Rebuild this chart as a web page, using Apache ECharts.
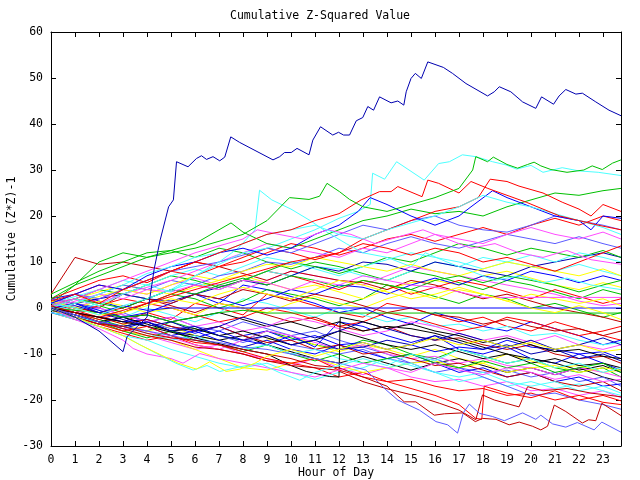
<!DOCTYPE html>
<html>
<head>
<meta charset="utf-8">
<script src="https://cdn.jsdelivr.net/npm/echarts@6/dist/echarts.min.js"></script>
<style>
  html, body { margin: 0; padding: 0; background: #fff; }
  #main { width: 640px; height: 480px; }
</style>
</head>
<body>
<div id="main"></div>
<script>
// hourly sample points (last sample is 23:45)
var hours = [0,1,2,3,4,5,6,7,8,9,10,11,12,13,14,15,16,17,18,19,20,21,22,23,23.75];
var xTicks = [0,1,2,3,4,5,6,7,8,9,10,11,12,13,14,15,16,17,18,19,20,21,22,23];
var yTicks = [-30,-20,-10,0,10,20,30,40,50,60];

var m1  = [1,-0.5,-2,-3,-1,-2.5,1,0,-1.5,3,2,0.5,-1,-2,1,0,-1.5,-3,-2,-4,-5,-3,-4.5,-6,-7];
var m2  = [0,-1,-2.5,-4,-5,-3,-4.5,-6,-7,-5,-6.5,-8,-9,-7,-8,-10,-11,-9,-10.5,-12,-11,-13,-14,-13,-15];
var m3  = [2,3,1.5,0,2,4,3,1,5,4,2.5,1,-1,0,-2,-3.5,-1,-2.5,-4,-5,-3,-4.5,-6,-8,-7];
var m4  = [-1,-2,-3.5,-5,-6,-7.5,-9,-8,-10,-11,-12.5,-11,-13,-14.5,-13,-15,-16,-15.5,-17,-16,-18,-17.5,-19,-18,-19.5];
var m5  = [0.5,1,-0.5,-2,0,-1.5,-3,-1,2,1,-0.5,-2,0,-1.5,-3,-2,-4,-3.5,-5,-4,-6,-5.5,-7,-8,-7.5];
var m6  = [0,-1,-2,-3.5,-5,-4,-6,-7,-8.5,-7,-6,-8,-9.5,-8,-9,-10.5,-9,-11,-12,-10,-11.5,-13,-12.5,-14,-13.5];
var m7  = [0,-1.5,-3,-4,-3,-5,-6,-7,-6,-8,-9.5,-11,-12,-10.5,-12,-13.5,-12,-11,-12.5,-14,-13,-14.5,-13,-15,-16];
var m8  = [2,1,0,3,2,0.5,-1,1,0,-1.5,-3,-2,-4,-5,-4,-6,-7,-6.5,-8,-9,-8,-10,-11,-10.5,-12];
var m9  = [0,-1,-2,-1,-3,-4.5,-4,-6,-7.5,-6,-8,-9,-10,-9,-11,-12,-11,-13,-14,-13.5,-15,-14,-16,-15,-17];
var m10 = [-1,-2.5,-4,-5.5,-7,-6,-8,-9,-10,-11.5,-12,-13,-15,-14,-16,-15.5,-17,-18,-17.5,-19,-18.5,-20,-19,-20.5,-21];
var m11 = [1,2,0.5,-1,1,3,2,0,1.5,4,3,2,0.5,2,5,4,2.5,1,3,2,0,1,-0.5,-2,-1];
var m12 = [-0.5,-2,-3,-4.5,-3,-5,-6.5,-5,-7,-8,-6,-8.5,-3,-4,-6,-7.5,-6,-9,-10,-8.5,-11,-12,-10,-12,-13.5];
var m13 = [1,0,2,4,3,5,6.5,5,4,6,8,7,6,5,7,9,8,7,6,5,4,3,1.5,0.5,1];
var m14 = [-1,-2.5,-4,-6,-7,-9,-10.5,-12,-13,-12,-14,-15.5,-14,-13,-11,-12.5,-14,-16,-15,-17,-16,-17.5,-16.5,-18,-19];
var m15 = [0.5,2,3.5,5,4,3,4.5,6,7,5.5,4,5,3.5,2,4,5.5,6,5,7,8,6.5,5,4,5.5,4.5];
var m16 = [1,0,-1,-2,-1.5,-3,-2,-1,-2.5,-4,-3,-4.5,-3,-5,-4,-4.5,-5.5,-7,-8.5,-10,-11,-12,-13.5,-12.5,-14];
var m17 = [3,11,9.5,10,9,8,10,9,7.5,6,8,7,6,5.5,4,6,5,3.5,2,3,1.5,0,-1,-2,-3];
var m18 = [1,5,10,12,11,12.5,11,13,12,10,8.5,10,9,7.5,6,8,7,5.5,4,6,5,3.5,2,4,3];
var m19 = [0,1,0,-1.5,-3,-2,-4,-5,-3,-4.5,-6,-5,-7,-8.5,-10,-12,-14,-13,-15,-17,-19,-18.5,-20,-21,-22];
var m20 = [0,-1,0.5,2,1,3,5,4,6,8,7,5.5,4,6,5,3,4.5,6,5,3.5,2,4,2.5,1,2];
var m21 = [0,-1,-2,-3,-2.5,-4,-5.5,-4,-6,-5,-7,-6,-8,-7.5,-9,-8,-9.5,-8.5,-9,-7,-8.5,-9,-10,-9.5,-11];
var m22 = [0,-1.5,-3,-4.5,-5,-6.5,-8,-9,-7,-5,-6,-7.5,-9,-8,-10,-11,-10.5,-12,-11,-12.5,-13,-14.5,-13,-14,-15];
var m23 = [0.5,-0.5,1,3,2,4,5.5,4,6,8,7,9,8.5,7,6,8,10,9,11,10,9,8,9.5,8,7];
var m24 = [-0.5,-2,-3.5,-5,-6,-7,-9,-11,-13,-13.5,-12,-11,-12.5,-14,-13,-12,-11.5,-13,-12,-14,-13,-12.5,-14,-13,-13.5];
var m25 = [0,1,2,3,2,1.5,3,4.5,6,5,7,9,8,10,9.5,8,10,9,8,7,9,10,11,12,11];
var m26 = [0,-0.5,-1,-2,-1.5,-3,-2,-1,-0.5,-1.1,-1.1,-1.1,-1.1,-1.1,-1.1,-1.1,-1.1,-1.1,-1.1,-1.1,-1.1,-1.1,-1.1,-1.1,-1.1];
var m27 = [0,1,-1,0.5,-0.5,0,0,0,0,0,0,0,0,0,0,0,0,0,0,0,0,0,0,0,0];
var m28 = [0,1.5,3,2,4,3.5,5,4,6,5.5,4,6,5,7,6,5,4.5,3.5,2.3,2.3,2.3,2.3,2.3,2.3,2.3];
var m29 = [2,4,6,7,5.5,8,10,9,11,13,12,10.5,12,14,13,11.5,13,12,10,11,9.5,8,10,12,13.5];
var m30 = [1,3,2,4,6,8,9,10,11.5,13,12,14,16,18,17,19,20,18,17,16.5,18,20,19,18,17];
var m31 = [0,0.5,-1,-2.5,-4,-3,-5,-4,-2,-3.5,-5,-6.5,-5,-3,-4.5,-6,-7,-5.5,-7,-8.5,-7,-9,-8,-6.5,-8];
var m32 = [1.5,0,-1.5,-1,0.5,2,1,3,4.5,3,2,4,6,5,3.5,2,3,4.5,3,1.5,0,-1,0.5,-1,-2.5];
var m33 = [0,2,4,3,5,7,6,4.5,6,8,10,9,7.5,9,11,10,12,14,13,11.5,13,12,11,12.5,11];
var m34 = [0.5,-1,-2.5,-1,1,0,-1.5,-3,-2,0,-1,-2.5,-4,-3,-1,-2,-3.5,-5,-4,-2,-3,-4.5,-6,-5,-4];
var m35 = [-1,-2,-3.5,-2,-4,-6,-5,-7,-8.5,-7,-9,-10,-8,-9.5,-11,-10,-12,-14,-13,-15,-14,-16,-15,-17,-16.5];
var m36 = [1,2.5,4,6,5,7,8.5,7,9,11,10,8.5,7,9,10.5,12,11,10,8.5,10,11.5,10,12,11,10];
var m37 = [0,-1,0,-1.5,-3,-2,-4,-3,-5,-4,-2,-3,-4.5,-6,-5,-3,-4,-5.5,-7,-6,-7.5,-6,-8,-9,-8];
var m38 = [1,0,1.5,0.5,-1,0,-1.5,1,0,-1,1,2.5,1,0,2,3.5,2,4,3,1.5,3,2,1,2,0.5];
var m39 = [0,-1,-2,-3.5,-2.5,-4,-5,-4,-6,-7.5,-7,-9,-8,-10,-9.5,-11,-12.5,-12,-13.5,-15,-14,-16,-17,-16,-18];
var m40 = [2,1,3,5,4,6,5,7,8,10,9.5,11,13,12,14,15.5,14,13,14.5,16,15,14,15.5,14,13];
var m41 = [-0.5,-1.5,-3,-2,-3.5,-5,-4.5,-6,-5,-6.5,-8,-7,-5,-6.5,-8,-9,-8,-9.5,-11,-10,-12,-11,-12.5,-12,-13];
var m42 = [0,-2,-3,-5,-6.5,-5,-7,-8,-9.5,-8,-10,-11.5,-10,-12,-11,-10,-12,-13,-11.5,-13,-12,-14,-13,-12,-14];
var m43 = [1,3,5,4,6,8,7,9,10,12,14,13,11.5,13,15,16,14.5,16,17.5,16,18,19.5,18,20,19];
var m44 = [0,1,-0.5,-2,-1,1,3,2,0.5,2,4,3,5,4.5,3,5,6.5,5,7,6,8,7,5.5,7,6];
var m45 = [-1,-2,-3,-4,-5.5,-7,-6,-8,-9,-8,-10,-9,-11,-12,-13,-12,-14,-15,-14,-16,-17,-16,-18,-17,-18.5];
var m46 = [1,2,1,3,4.5,6,8,10,12,14,13,12,11,13,12,14,16,15,14,16,17.5,16,15,16.5,15];
var m47 = [1,0,-1,0,2,1,3,2,4,3,1.5,3,2,0.5,-1,0,-1.5,-2,-3.5,-2.5,-4,-5,-4.5,-6,-5];
var m48 = [0,1,2.5,4,3,5,7,6,8,9.5,9,11,10,9,8,9.5,8,7,8.5,10,9,8,7,8.5,7];
var m49 = [0,-1.5,-3,-4,-3,-5,-4,-6,-7,-6,-8,-7,-9,-8.5,-7,-8,-6,-7.5,-9,-8,-10,-9,-11,-10,-11.5];
var m50 = [0.5,2,1,0,2,4,3,5,6.5,5,7,6,4.5,6,5,4,6,7,5.5,7,6,5,3.5,5,6];

// lines read with their jump points [hour, value]
var navyTop = [[0,0],[1,-2],[2,-5],[3,-9.5],[3.17,-6.2],[3.6,-4],[4,-2],[4.3,8.5],[4.55,14.8],[4.9,22],[5.1,23.5],[5.23,31.8],[5.71,30.7],[6.06,32.5],[6.27,33.1],[6.48,32.3],[6.75,32.9],[7.03,32],[7.24,32.8],[7.49,37.2],[7.86,36],[9.25,32.2],[9.53,32.9],[9.73,33.8],[10.01,33.8],[10.25,34.7],[10.75,33.3],[10.91,36.5],[11.23,39.4],[11.74,37.6],[11.98,38.2],[12.19,37.6],[12.44,37.6],[12.72,40.7],[12.99,41.4],[13.2,43.8],[13.44,43],[13.69,45.9],[14.17,44.6],[14.45,45],[14.7,44.1],[14.8,47],[15,49.9],[15.18,51],[15.43,49.9],[15.7,53.5],[16.35,52.3],[16.73,51],[17.29,48.8],[18.19,46.1],[18.47,47],[18.68,48.1],[19.16,47],[19.65,44.8],[20.2,43.4],[20.44,45.9],[20.94,44.3],[21.17,46.1],[21.45,47.5],[21.87,46.5],[22.14,46.7],[22.7,44.8],[23.25,43],[23.75,41.8]];
var cyanA = [[0,1],[1,0],[2,-1.5],[3,0.5],[4,2],[5,4],[6,7],[7,10],[7.8,13],[8.5,17],[8.69,25.6],[9.2,23.5],[10,21.5],[10.8,19],[11.5,16.5],[12.3,14],[13,12],[14,11],[15,9],[15.6,12],[16.5,10],[17.5,8],[18.5,6],[19.5,7],[20.5,5.5],[21.5,6.5],[22.5,5],[23.75,4]];
var cyanB = [[0,0],[1,2],[2,0.5],[3,3],[4,5],[5,3.5],[6,7],[7,9.5],[8,12],[9,13],[10,15],[11,17],[12,19.5],[12.8,21],[13.3,22.5],[13.4,29.3],[13.9,28],[14.4,31.8],[15.55,27.8],[16.15,31.4],[16.6,31.8],[17.14,33.3],[17.7,32.9],[18.4,31.8],[18.96,31.1],[19.4,30.2],[20,31],[20.5,29.5],[21.3,30.5],[22,29.8],[22.8,29.5],[23.75,28.8]];
var greenTop = [[0,2],[1,5],[2,7],[3,9],[4,11],[5,12],[6,13],[7,14.5],[8,16],[9,19],[9.94,24],[10.75,23.6],[11.19,24.3],[11.5,27.1],[12.02,25.3],[12.44,23.6],[13,22],[14,21],[15,22.5],[16,24],[17,26],[17.57,30],[17.7,32.9],[18.19,31.8],[18.43,32.8],[19,31.2],[19.44,30.4],[19.86,31.2],[20.13,31.7],[20.41,30.9],[20.83,30.1],[21.5,29.5],[22.2,30],[22.55,30.9],[22.97,30.1],[23.4,31.5],[23.75,32.2]];
var greenB = [[0,3],[1,5.5],[2,8],[3,10],[4,12],[5,12.5],[6,14],[7,17],[7.5,18.5],[8,16.5],[9,14],[10,13],[11,15],[12,17],[13,19],[14,20],[15,21.5],[16,20.5],[17,21],[18,20],[19,22],[20,23.5],[21,25],[22,24.5],[23,25.5],[23.75,26]];
var redTop = [[0,1.5],[1,3],[2,1],[3,4],[4,6],[5,8],[6,10],[7,12],[8,14],[9,16],[10,17],[11,19],[12,20.5],[12.92,23.5],[13.69,25.3],[14.17,25.3],[14.45,26.4],[15.46,24.2],[15.7,27.8],[16.15,27.1],[17,25],[17.5,27.5],[18.2,26],[19,24.5],[19.8,23],[20.5,21.5],[21.2,20],[22,19],[22.8,18],[23.75,17]];
var redB = [[0,0],[2,-2],[4,1],[6,4],[8,7],[10,10],[12,12],[13,15],[14,17],[15,19],[16,21],[17,22],[17.8,24],[18.3,28],[19,27.5],[19.5,26.5],[20.5,25],[21.3,23],[22,21.5],[22.5,20],[23,22.5],[23.75,21]];
var blueB = [[0,1],[1,3],[2,5],[3,4],[4,7],[5,9],[6,10],[7,12],[8,13],[9,11.5],[10,13],[11,16],[12,18],[12.8,21],[13.3,24],[14,22.5],[15,20],[16,18],[17,20],[17.5,22],[18.4,25.5],[19,24],[20,22],[21,20],[22,19],[22.5,17],[23,20],[23.75,19.5]];
var magB = [[0,0.5],[1,2],[2,4],[3,6],[4,8],[5,10],[6,12],[7,13.5],[8,15],[8.6,17],[9.5,16],[10.5,15],[11.5,17],[12.5,16],[13.5,14],[14.5,15.5],[15.5,17],[16.5,15],[17.5,13],[18.5,14],[19.5,12],[20.5,11],[21.5,12.5],[22.5,10.5],[23.75,9.5]];
var cyanC = [[0,-0.5],[1,1],[2,3],[3,5],[4,7.5],[5,9],[6,11],[7,12],[8,14],[9,16],[10,17],[11,18],[12,16],[13,15],[14,17],[15,18.5],[16,20],[17,22],[18,24.5],[19,23],[20,22],[21,20.5],[22,19],[23,17.5],[23.75,16]];
var blackJump = [[0,0],[2,-2],[4,-4],[6,-6.5],[8,-9],[9,-10],[10,-12.5],[10.64,-13.8],[11.6,-14.9],[12,-15],[12.05,-2],[13,-3],[14,-4.5],[15,-3.5],[16,-5],[17,-6],[18,-7.5],[19,-6.5],[20,-8],[21,-9.5],[22,-9],[23,-10.5],[23.75,-11]];
var redLow = [[0,0],[1,-2],[2,-3.5],[3,-5],[4,-4],[5,-6],[6,-7.5],[7,-8],[8,-9.5],[9,-11],[10,-12],[11,-11],[12,-13.5],[13,-15],[14,-16],[15,-17.5],[16,-19],[17,-21],[17.7,-24],[17.95,-24.2],[18.05,-17],[19,-18.5],[20,-19.5],[21,-18],[22,-20],[23,-19],[23.75,-20.2]];
var darkRedB = [[0,0.5],[1,-1],[2,-3],[3,-4.5],[4,-6],[5,-7],[6,-8.5],[7,-9],[8,-10],[9,-11.5],[10,-12.5],[11,-13],[11.9,-13.5],[13,-16],[13.96,-17.5],[15.35,-19.3],[16.18,-20.7],[17,-22.2],[17.7,-24.3],[17.98,-18.9],[18.47,-20],[19.5,-21.5],[19.86,-17.1],[20.5,-18],[21.5,-17.5],[22.5,-18.5],[23.75,-19.3]];
var lightBlueLow = [[0,0],[1,-1.5],[2,-3],[3,-4],[4,-5],[5,-6],[6,-7],[7,-7.5],[8,-8.5],[9,-9],[10,-10],[11,-11],[12,-12],[13.13,-13.5],[13.96,-17.8],[14.45,-20],[15.35,-22.2],[16.04,-24.7],[16.53,-25.4],[16.94,-27.2],[17.18,-22.8],[17.43,-20.9],[17.85,-22.9],[18.4,-23.6],[18.89,-24.5],[19.65,-22.8],[20.2,-24.2],[20.41,-23.3],[20.9,-25.2],[21.45,-25.9],[21.93,-24.9],[22.63,-26.5],[22.95,-24.8],[23.75,-27]];
var darkRedLow = [[0,0],[1,-2],[2,-3.5],[3,-4],[4,-5.5],[5,-6.5],[6,-7],[7,-8],[8,-9],[9,-10],[10,-11],[11,-12.5],[12,-13],[13,-15],[14,-17],[14.72,-20.4],[15.2,-20.4],[15.97,-23.3],[16.39,-23],[17.15,-22.8],[17.68,-24.7],[17.98,-24],[18.54,-24.2],[19.09,-25.4],[19.51,-24.8],[20.06,-25.7],[20.41,-26.5],[20.69,-25.7],[20.97,-21.1],[21.45,-22.5],[22.14,-25],[22.4,-24.3],[22.7,-24.5],[22.95,-20.7],[23.75,-23.4]];
var magLow = [[0,0],[1,-2.5],[2,-4.5],[3,-7],[3.42,-8.8],[4,-10],[5,-11],[5.5,-12],[6.2,-9.9],[7,-11],[8,-12],[9,-13],[10,-14],[11,-15],[12,-13.5],[13,-12],[14,-13],[15,-14],[16,-12],[17,-13.5],[18,-14.5],[19,-13],[20,-14],[21,-15.5],[22,-14.5],[23,-16],[23.75,-15.5]];
var cyanLow = [[0,0],[1,-2],[2,-4],[3,-6],[4.4,-9.9],[5.2,-12],[5.92,-13.5],[6.5,-12.5],[7.03,-13.8],[7.86,-12.8],[8.69,-12],[9.5,-14],[10.36,-15.7],[11,-14],[12,-12.5],[13,-11],[14,-12.5],[15,-10],[16,-11.5],[17,-9],[18,-10.5],[19,-12],[20,-11],[21,-13],[22,-12],[23,-14],[23.75,-13]];
var yellowLow = [[0,0],[1,-2],[2,-4],[3,-6],[3.7,-8],[4.5,-10],[5.3,-12],[6.06,-13.3],[6.61,-11.7],[7.3,-13.8],[7.86,-13.3],[8.5,-12],[9,-10.5],[10,-9],[11,-10.5],[12,-9],[13,-7.5],[14,-9],[15,-8],[16,-6.5],[17,-8],[18,-7],[19,-8.5],[20,-7.5],[21,-9],[22,-8],[23,-9.5],[23.75,-9]];

var R = '#ff0000', G = '#00c000', B = '#0000ff', N = '#0000b0', LB = '#5c5cff',
    M = '#ff4cff', C = '#4cffff', Y = '#ffff00', K = '#000000', DR = '#c00000';

var hourly = [
  [m1, R], [m2, G], [m3, B], [m4, M], [m5, C], [m6, Y], [m7, K], [m8, DR],
  [m9, LB], [m10, R], [m11, G], [m12, B], [m13, M], [m14, C], [m15, Y], [m16, K],
  [m17, DR], [m18, G], [m19, LB], [m20, R], [m21, B], [m22, M], [m23, C], [m24, Y],
  [m25, N], [m33, G], [m34, R], [m35, B], [m36, C], [m37, M], [m38, Y], [m39, DR],
  [m40, LB], [m41, K], [m42, G], [m43, R], [m44, B], [m45, C], [m46, M], [m47, DR],
  [m48, Y], [m49, N], [m50, G],
  [m26, G], [m27, B], [m28, M], [m29, R], [m30, LB], [m31, N], [m32, Y]
];
var paired = [
  [cyanA, C], [cyanB, C], [greenB, G], [redB, R], [blueB, B], [magB, M], [cyanC, C],
  [redTop, R], [greenTop, G], [blackJump, K], [redLow, R], [darkRedB, DR],
  [lightBlueLow, LB], [darkRedLow, DR], [magLow, M], [cyanLow, C], [yellowLow, Y],
  [navyTop, N]
];

var font = 'DejaVu Sans Mono';
var series = [];
hourly.forEach(function (h) {
  series.push({
    type: 'line', showSymbol: false, silent: true,
    data: hours.map(function (t, i) { return [t, h[0][i]]; }),
    lineStyle: { width: 1, color: h[1] }, itemStyle: { color: h[1] }
  });
});
paired.forEach(function (p) {
  series.push({
    type: 'line', showSymbol: false, silent: true,
    data: p[0],
    lineStyle: { width: 1, color: p[1] }, itemStyle: { color: p[1] }
  });
});

var axisLine = { show: true, onZero: false, lineStyle: { color: '#000', width: 1 } };
var tick = { show: true, inside: true, length: 5, lineStyle: { color: '#000' } };

var chart = echarts.init(document.getElementById('main'), null, { renderer: 'canvas' });
chart.setOption({
  animation: false,
  backgroundColor: '#fff',
  title: {
    text: 'Cumulative Z-Squared Value',
    left: 'center', top: 5,
    textStyle: { fontFamily: font, fontSize: 11.5, fontWeight: 'normal', color: '#000' }
  },
  grid: { left: 51, right: 19, top: 32, bottom: 34, outerBoundsMode: 'none', containLabel: false },
  xAxis: [{
    type: 'value', min: 0, max: 23.75, interval: 1, position: 'bottom',
    axisLine: axisLine, axisTick: tick, splitLine: { show: false },
    axisLabel: {
      color: '#000', fontFamily: font, fontSize: 11.5, margin: 8,
      formatter: function (v) { return xTicks.indexOf(v) >= 0 ? String(v) : ''; }
    },
    name: 'Hour of Day', nameLocation: 'middle', nameGap: 21, nameMoveOverlap: false,
    nameTextStyle: { color: '#000', fontFamily: font, fontSize: 11.5 }
  }, {
    type: 'value', min: 0, max: 23.75, interval: 1, position: 'top',
    axisLine: axisLine, axisTick: tick, axisLabel: { show: false }, splitLine: { show: false }
  }],
  yAxis: [{
    type: 'value', min: -30, max: 60, interval: 10, position: 'left',
    axisLine: axisLine, axisTick: tick, splitLine: { show: false },
    axisLabel: {
      color: '#000', fontFamily: font, fontSize: 11.5, margin: 8,
      formatter: function (v) { return yTicks.indexOf(v) >= 0 ? String(v) : ''; }
    },
    name: 'Cumulative (Z*Z)-1', nameLocation: 'middle', nameGap: 33, nameRotate: 90,
    nameMoveOverlap: false,
    nameTextStyle: { color: '#000', fontFamily: font, fontSize: 11.5 }
  }, {
    type: 'value', min: -30, max: 60, interval: 10, position: 'right',
    axisLine: axisLine, axisTick: tick, axisLabel: { show: false }, splitLine: { show: false }
  }],
  series: series
});
</script>
</body>
</html>
